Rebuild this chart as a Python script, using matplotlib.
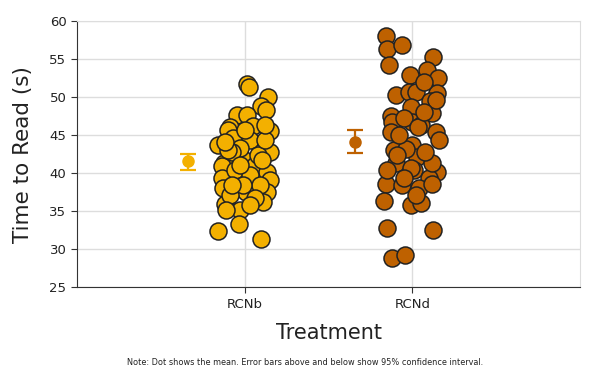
import matplotlib
matplotlib.use("Agg")
import matplotlib.pyplot as plt
import numpy as np

treatments = ["RCNb", "RCNd"]
colors = ["#F3B000", "#BE6100"]

# read times (s) and horizontal jitter (category units)
rcnb_time = [51.7, 51.4, 50.0, 48.9, 48.3, 47.6, 47.6, 46.1, 45.7, 46.2, 45.5,
             44.6, 43.7, 43.4, 42.8, 41.8, 41.3, 40.9, 41.1, 40.1, 39.3, 39.1,
             39.1, 37.5, 37.5, 38.0, 35.9, 35.1, 36.2, 32.4, 33.3, 31.3, 44.3,
             43.3, 42.8, 42.4, 40.4, 39.7, 38.4, 37.1, 36.7, 38.4, 35.1, 41.7,
             43.0, 45.7, 44.3, 38.4, 35.8, 46.3, 44.1, 41.1]
rcnb_jit = [0.012, 0.024, 0.137, 0.095, 0.125, -0.048, 0.012, -0.089, -0.101,
            0.048, 0.149, -0.071, -0.161, 0.089, 0.149, -0.012, -0.125, -0.137,
            0.060, 0.131, -0.137, -0.048, 0.149, 0.006, 0.131, -0.131, -0.119,
            -0.030, 0.107, -0.161, -0.036, 0.095, 0.030, -0.030, -0.077, 0.077,
            -0.060, 0.030, 0.089, -0.089, 0.060, -0.012, -0.113, 0.101, -0.101,
            0.000, 0.119, -0.077, 0.030, 0.119, -0.119, -0.030]

rcnd_time = [58.0, 56.4, 56.8, 54.2, 55.3, 53.6, 52.5, 52.9, 50.3, 50.7, 50.7,
             50.5, 49.5, 48.7, 47.5, 46.7, 46.7, 46.3, 45.4, 44.3, 45.4, 43.7,
             43.0, 41.3, 42.1, 40.1, 38.6, 38.4, 36.4, 35.8, 36.1, 32.8, 32.5,
             28.9, 29.2, 40.4, 40.4, 39.3, 41.3, 38.0, 37.1, 47.2, 47.9, 46.1,
             43.2, 42.4, 40.7, 39.3, 49.6, 52.0, 42.8, 45.0, 38.6, 48.0]
rcnd_jit = [-0.155, -0.149, -0.065, -0.137, 0.125, 0.089, 0.155, -0.012,
            -0.095, -0.018, 0.024, 0.149, 0.107, -0.006, -0.125, -0.119, 0.000,
            0.054, 0.143, 0.161, -0.125, 0.000, -0.107, -0.095, 0.030, 0.149,
            -0.155, -0.060, -0.167, -0.006, 0.054, -0.149, 0.125, -0.119,
            -0.042, 0.012, -0.149, 0.101, 0.119, 0.042, 0.024, -0.048, 0.119,
            0.036, -0.036, -0.089, -0.006, -0.048, 0.143, 0.071, 0.077, -0.077,
            0.119, 0.071]

means = [41.6, 44.1]
ci_low = [40.4, 42.6]
ci_high = [42.5, 45.7]

times = [rcnb_time, rcnd_time]
jits = [rcnb_jit, rcnd_jit]

fig = plt.figure(figsize=(6.05, 3.71), dpi=100)
ax = fig.add_axes([0.127, 0.226, 0.832, 0.717])

for i in range(len(treatments)):
    xs = i + np.array(jits[i])
    ax.scatter(xs, times[i], s=150, color=colors[i], edgecolor="#222222",
               linewidth=1.1, zorder=3)
    m = means[i]
    ax.errorbar(i - 0.34, m, yerr=[[m - ci_low[i]], [ci_high[i] - m]],
                fmt="o", color=colors[i], markersize=8, capsize=6,
                elinewidth=1.6, capthick=1.6, zorder=3)

ax.set_xlim(-1, 2)
ax.set_ylim(25, 60)
ax.set_xticks(range(len(treatments)))
ax.set_xticklabels(treatments)
ax.set_yticks(np.arange(25, 61, 5))
ax.grid(True, color="#dddddd", linewidth=1, zorder=0)
ax.set_axisbelow(True)
for s in ["top", "right"]:
    ax.spines[s].set_color("#dddddd")
for s in ["left", "bottom"]:
    ax.spines[s].set_color("#333333")
ax.tick_params(axis="both", labelsize=9.5, colors="#333333", length=4,
               labelcolor="#222222")

ax.set_xlabel("Treatment", fontsize=15, color="#222222", labelpad=9)
ax.set_ylabel("Time to Read (s)", fontsize=15.5, color="#222222", labelpad=12)

fig.text(0.505, 0.016, "Note: Dot shows the mean. Error bars above and below show 95% confidence interval.",
         ha="center", fontsize=5.9, color="#222222")

fig.savefig("out.png", dpi=100)
